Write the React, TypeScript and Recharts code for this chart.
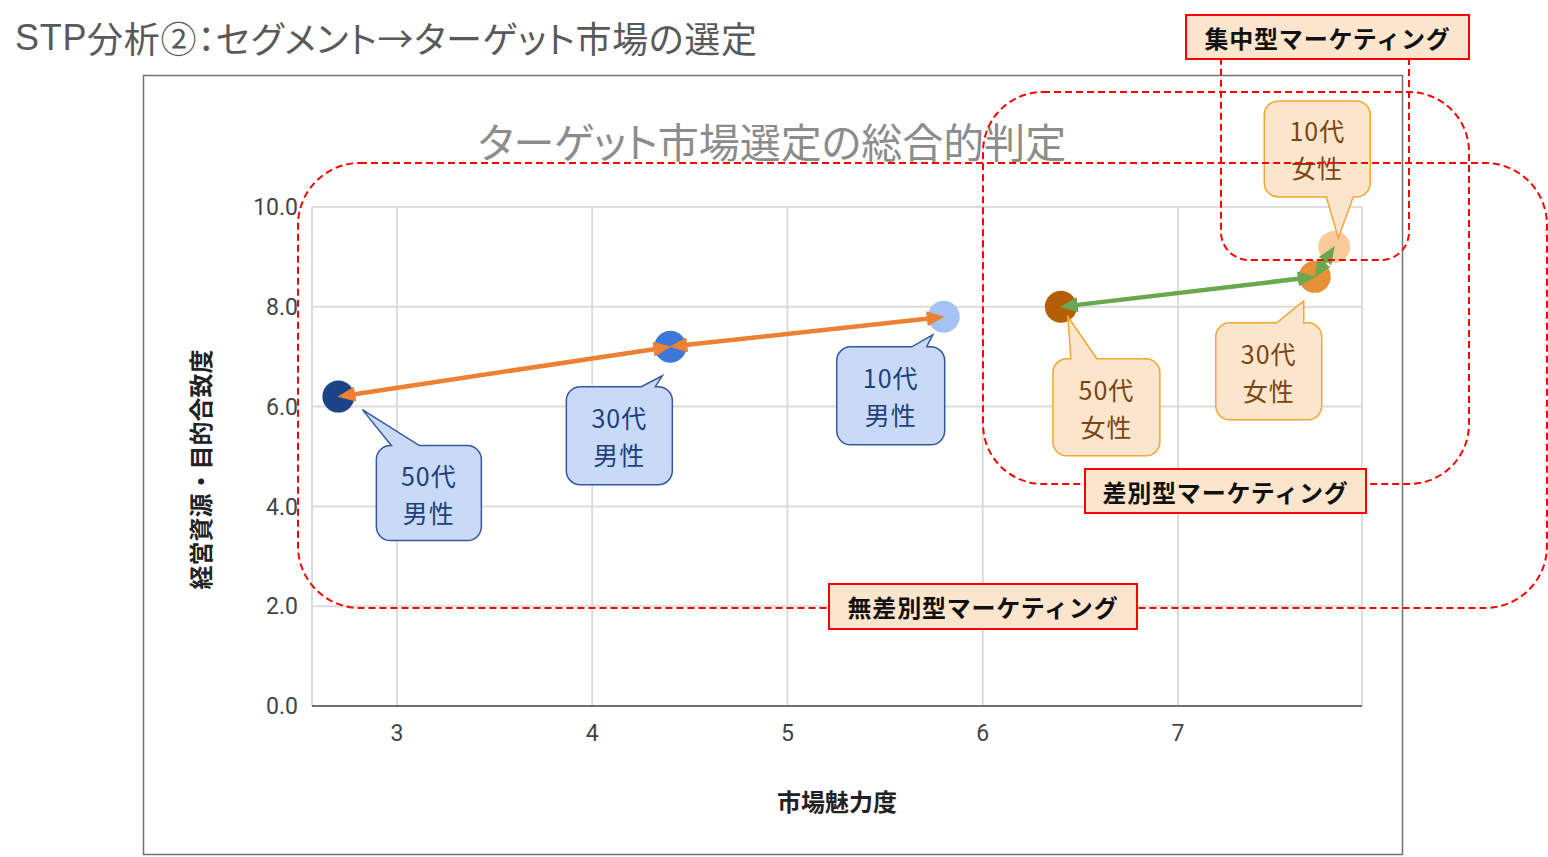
import React from 'react';
import { ScatterChart, Scatter, XAxis, YAxis, CartesianGrid } from 'recharts';

// segments: market attractiveness (x) vs. resource fit (y)
const SEGMENTS = ['50代男性', '30代男性', '10代男性', '50代女性', '30代女性', '10代女性'];
const ATTRACTIVENESS = [2.7, 4.4, 5.8, 6.4, 7.7, 7.8];
const FIT = [6.2, 7.2, 7.8, 8.0, 8.6, 9.2];
const X_TICKS = [3, 4, 5, 6, 7];
const Y_TICKS = [0, 2, 4, 6, 8, 10];
// double-headed arrows between segments (indices)
const ARROWS = [[0, 1], [1, 2], [3, 4], [4, 5]];

const POINT_COLORS = ['#1c4587', '#3c78d8', '#a4c2f4', '#b45f06', '#e69138', '#f9cb9c'];
const ARROW_COLORS = ['#ec8133', '#ec8133', '#6aa84f', '#6aa84f'];
const FONT_JP = '"Noto Sans CJK JP", "Noto Sans", sans-serif';
const PALT = { fontFeatureSettings: '"palt"' };
const SHORTEN = 8; // line stops under the arrowhead

// callout bubble placement relative to each point
const CALLOUTS = [
  { box: [38, 49, 105, 95], side: 'top', base: [53, 81], tip: [24, 13] },
  { box: [-104, 40, 106, 98], side: 'top', base: [-29, -15], tip: [-8, 29] },
  { box: [-107, 30, 108, 98], side: 'top', base: [-32, -17], tip: [-11, 18] },
  { box: [-8, 52, 107, 97], side: 'top', base: [10, 36], tip: [7, 10] },
  { box: [-99, 46, 106, 97], side: 'top', base: [-38, -11], tip: [-11, 24] },
  { box: [-70, -146, 106, 96], side: 'bottom', base: [-8, 19], tip: [4, -9] },
];

const pointData = SEGMENTS.map((name, idx) => ({
  name,
  idx,
  x: ATTRACTIVENESS[idx],
  y: FIT[idx],
}));

const calloutPath = (cx: number, cy: number, c: any) => {
  const [bx, by, w, h] = c.box;
  const x = cx + bx;
  const y = cy + by;
  const r = 14;
  const b1 = cx + c.base[0];
  const b2 = cx + c.base[1];
  const tx = cx + c.tip[0];
  const ty = cy + c.tip[1];
  let d = `M${x + r},${y}`;
  if (c.side === 'top') d += ` L${b1},${y} L${tx},${ty} L${b2},${y}`;
  d += ` L${x + w - r},${y} A${r},${r} 0 0 1 ${x + w},${y + r}`;
  d += ` L${x + w},${y + h - r} A${r},${r} 0 0 1 ${x + w - r},${y + h}`;
  if (c.side === 'bottom') d += ` L${b2},${y + h} L${tx},${ty} L${b1},${y + h}`;
  d += ` L${x + r},${y + h} A${r},${r} 0 0 1 ${x},${y + h - r}`;
  d += ` L${x},${y + r} A${r},${r} 0 0 1 ${x + r},${y} Z`;
  return d;
};

const SegmentShape = (props: any) => {
  const { cx, cy, payload } = props;
  if (cx == null || cy == null) return <g />;
  const i = payload.idx;
  const male = i < 3;
  const c = CALLOUTS[i];
  const [bx, by, w, h] = c.box;
  const mx = cx + bx + w / 2;
  const my = cy + by + h / 2;
  const textFill = male ? '#1f3f7a' : '#7a4512';
  return (
    <g>
      <circle cx={cx} cy={cy} r={16} fill={POINT_COLORS[i]} />
      <path
        d={calloutPath(cx, cy, c)}
        fill={male ? '#c9daf8' : '#fce5cd'}
        stroke={male ? '#35589c' : '#f6a531'}
        strokeWidth={1.5}
      />
      <text x={mx} y={my - 18.5} textAnchor="middle" dominantBaseline="central"
        fontSize={25} letterSpacing={1} fontFamily={FONT_JP} fill={textFill}>
        <tspan x={mx} dy={0}>{payload.name.slice(0, 3)}</tspan>
        <tspan x={mx} dy={37}>{payload.name.slice(3)}</tspan>
      </text>
    </g>
  );
};

const NoDot = () => <g />;

const arrowLine = (k: number) => (p: any) => {
  const pts = p.points || [];
  if (pts.length < 2) return <g />;
  const [a, b] = pts;
  const len = Math.hypot(b.x - a.x, b.y - a.y) || 1;
  const ux = (b.x - a.x) / len;
  const uy = (b.y - a.y) / len;
  const d = `M${a.x + ux * SHORTEN},${a.y + uy * SHORTEN} L${b.x - ux * SHORTEN},${b.y - uy * SHORTEN}`;
  return (
    <path d={d} fill="none" stroke={ARROW_COLORS[k]} strokeWidth={4.5}
      markerStart={`url(#arrow${k})`} markerEnd={`url(#arrow${k})`} />
  );
};

const YLabel = (props: any) => {
  const vb = props.viewBox || { x: 252, y: 207, width: 60, height: 499 };
  const x = vb.x - 53;
  const y = vb.y + vb.height / 2 + 13;
  return (
    <text x={x} y={y} transform={`rotate(-90, ${x}, ${y})`} textAnchor="middle"
      dominantBaseline="central" fontSize={24} fontWeight="bold" fontFamily={FONT_JP} fill="#222">
      経営資源・目的合致度
    </text>
  );
};

const XLabel = (props: any) => {
  const vb = props.viewBox || { x: 312, y: 706, width: 1050, height: 30 };
  return (
    <text x={vb.x + vb.width / 2} y={vb.y + 94} textAnchor="middle" dominantBaseline="central"
      fontSize={24} fontWeight="bold" fontFamily={FONT_JP} fill="#222">
      市場魅力度
    </text>
  );
};

const TagBox = ({ x, y, w, h, text }: any) => (
  <g>
    <rect x={x} y={y} width={w} height={h} fill="#fce5cd" stroke="#ff0000" strokeWidth={2} />
    <text x={x + w / 2} y={y + h / 2} textAnchor="middle" dominantBaseline="central"
      fontSize={24} fontWeight="bold" letterSpacing={0.8} fontFamily={FONT_JP} fill="#111">
      {text}
    </text>
  </g>
);

export default function App() {
  return (
    <div style={{ position: 'absolute', left: 0, top: 0, width: 1548, height: 857, background: '#fff' }}>
      <ScatterChart width={1548} height={857} margin={{ top: 207, right: 186, bottom: 121, left: 252 }}>
        <defs>
          {ARROW_COLORS.map((col, k) => (
            <marker key={k} id={`arrow${k}`} viewBox="0 0 18 15" refX={17 - SHORTEN} refY={7.5}
              markerWidth={18} markerHeight={15} markerUnits="userSpaceOnUse" orient="auto-start-reverse">
              <path d="M0,0 L18,7.5 L0,15 z" fill={col} />
            </marker>
          ))}
        </defs>
        <CartesianGrid stroke="#dcdcdc" strokeWidth={2} />
        <XAxis
          type="number"
          dataKey="x"
          domain={[2.565, 7.942]}
          ticks={X_TICKS}
          height={30}
          tickLine={false}
          tickMargin={13}
          axisLine={{ stroke: '#707070', strokeWidth: 2 }}
          tick={{ fontSize: 23, fill: '#444', fontFamily: 'Roboto, sans-serif' }}
          label={XLabel}
        />
        <YAxis
          type="number"
          dataKey="y"
          domain={[0, 10]}
          ticks={Y_TICKS}
          width={60}
          tickLine={false}
          axisLine={false}
          tickMargin={8}
          tickFormatter={(v: number) => v.toFixed(1)}
          tick={{ fontSize: 23, fill: '#444', fontFamily: 'Roboto, sans-serif' }}
          label={YLabel}
        />
        <Scatter data={pointData} shape={SegmentShape} isAnimationActive={false} />
        {ARROWS.map(([a, b], k) => (
          <Scatter
            key={k}
            data={[
              { x: ATTRACTIVENESS[a], y: FIT[a] },
              { x: ATTRACTIVENESS[b], y: FIT[b] },
            ]}
            fill={ARROW_COLORS[k]}
            shape={NoDot}
            line={arrowLine(k)}
            lineType="joint"
            isAnimationActive={false}
          />
        ))}
      </ScatterChart>
      <svg width={1548} height={857} style={{ position: 'absolute', left: 0, top: 0, pointerEvents: 'none' }}>
        <text x={15} y={37} dominantBaseline="central" fontSize={36} textLength={742} lengthAdjust="spacing"
          fontFamily={FONT_JP} fill="#595959" style={PALT}>
          <tspan fontFamily="Liberation Sans, sans-serif">STP</tspan>分析②：セグメント→ターゲット市場の選定
        </text>
        <rect x={143.5} y={75.5} width={1259} height={779} fill="none" stroke="#707070" strokeWidth={1.5} />
        <text x={772} y={140} textAnchor="middle" dominantBaseline="central" fontSize={41}
          fontFamily={FONT_JP} fill="#8c8c8c" style={PALT}>
          ターゲット市場選定の総合的判定
        </text>
        <g fill="none" stroke="#ff0000" strokeWidth={2} strokeDasharray="7 4">
          <rect x={298} y={163} width={1249} height={445} rx={62} />
          <rect x={983} y={92} width={486} height={392} rx={60} />
          <rect x={1221} y={30} width={188} height={230} rx={28} />
        </g>
        <TagBox x={1186} y={15} w={283} h={44} text="集中型マーケティング" />
        <TagBox x={1085} y={469} w={281} h={44} text="差別型マーケティング" />
        <TagBox x={829} y={584} w={308} h={45} text="無差別型マーケティング" />
      </svg>
    </div>
  );
}
